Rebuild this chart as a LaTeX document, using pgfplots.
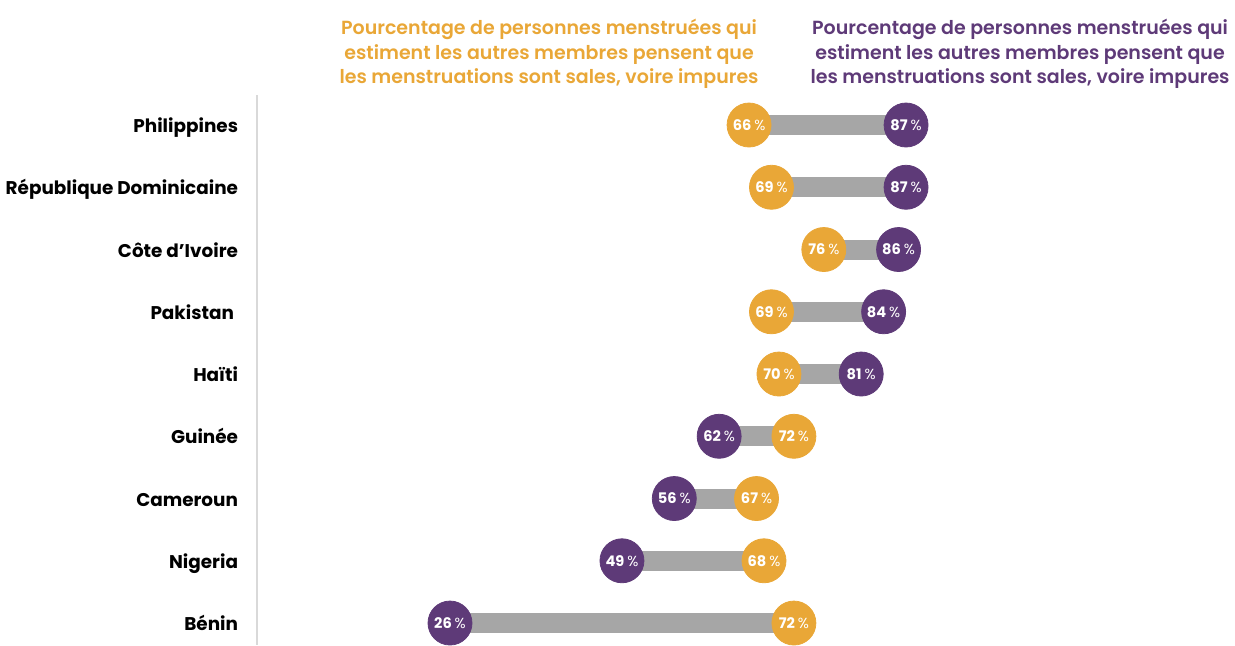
\documentclass[border=0pt]{standalone}
\usepackage{fontspec}
\setmainfont{Poppins}[BoldFont={Poppins SemiBold}]
\newfontfamily\popbold{Poppins Bold}
\usepackage{pgfplots}
\pgfplotsset{compat=1.18}
\definecolor{orng}{HTML}{E9A737}
\definecolor{purp}{HTML}{5E3A78}
\definecolor{barg}{HTML}{A6A6A6}
\definecolor{axg}{HTML}{D9D9D9}
\begin{document}
\begin{tikzpicture}
\begin{axis}[
  scale only axis, width=617.5pt, height=322.5pt,
  xmin=-34.19, xmax=131.0, ymin=-2.008, ymax=8.353,
  y dir=reverse, axis lines=none, ticks=none, clip=false,
  every node near coord/.append style={anchor=center, text=white, font=\fontsize{7.3}{8}\selectfont},
]
\draw[axg, line width=0.8pt] (axis cs:0.2,-0.48) -- (axis cs:0.2,8.353);
% bars
\addplot[barg, line width=10pt] coordinates {(66,0) (87,0)};
\addplot[barg, line width=10pt] coordinates {(69,1) (87,1)};
\addplot[barg, line width=10pt] coordinates {(76,2) (86,2)};
\addplot[barg, line width=10pt] coordinates {(69,3) (84,3)};
\addplot[barg, line width=10pt] coordinates {(70,4) (81,4)};
\addplot[barg, line width=10pt] coordinates {(62,5) (72,5)};
\addplot[barg, line width=10pt] coordinates {(56,6) (67,6)};
\addplot[barg, line width=10pt] coordinates {(49,7) (68,7)};
\addplot[barg, line width=10pt] coordinates {(26,8) (72,8)};
% orange circles
\addplot[only marks, mark=*, mark size=11pt, color=orng,
  point meta=explicit symbolic,
  nodes near coords={{\popbold\pgfplotspointmeta}\hspace{0.2em}\%}] table[meta=l] {
x y l
66 0 66
69 1 69
76 2 76
69 3 69
70 4 70
72 5 72
67 6 67
68 7 68
72 8 72
};
% purple circles
\addplot[only marks, mark=*, mark size=11pt, color=purp,
  point meta=explicit symbolic,
  nodes near coords={{\popbold\pgfplotspointmeta}\hspace{0.2em}\%}] table[meta=l] {
x y l
87 0 87
87 1 87
86 2 86
84 3 84
81 4 81
62 5 62
56 6 56
49 7 49
26 8 26
};
% country labels
\begin{scope}[every node/.style={anchor=base east, inner sep=0pt, font=\popbold\fontsize{9.2}{11}\selectfont, text=black}]
\node at (axis cs:-2.3,0.122) {Philippines};
\node at (axis cs:-2.3,1.122) {République Dominicaine};
\node at (axis cs:-2.3,2.122) {Côte d’Ivoire};
\node at (axis cs:-2.85,3.122) {Pakistan};
\node at (axis cs:-2.3,4.122) {Haïti};
\node at (axis cs:-2.3,5.122) {Guinée};
\node at (axis cs:-2.3,6.122) {Cameroun};
\node at (axis cs:-2.3,7.122) {Nigeria};
\node at (axis cs:-2.3,8.122) {Bénin};
\end{scope}
% titles
\node[align=center, inner sep=0pt, text=orng, font=\bfseries\fontsize{9.5}{12.25}\selectfont] at (axis cs:39.25,-1.14)
  {Pourcentage de personnes menstruées qui\\estiment les autres membres pensent que\\les menstruations sont sales, voire impures};
\node[align=center, inner sep=0pt, text=purp, font=\bfseries\fontsize{9.5}{12.25}\selectfont] at (axis cs:102.25,-1.14)
  {Pourcentage de personnes menstruées qui\\estiment les autres membres pensent que\\les menstruations sont sales, voire impures};
\end{axis}
\pgfresetboundingbox
\useasboundingbox (current axis.south west) rectangle (current axis.north east);
\end{tikzpicture}
\end{document}
